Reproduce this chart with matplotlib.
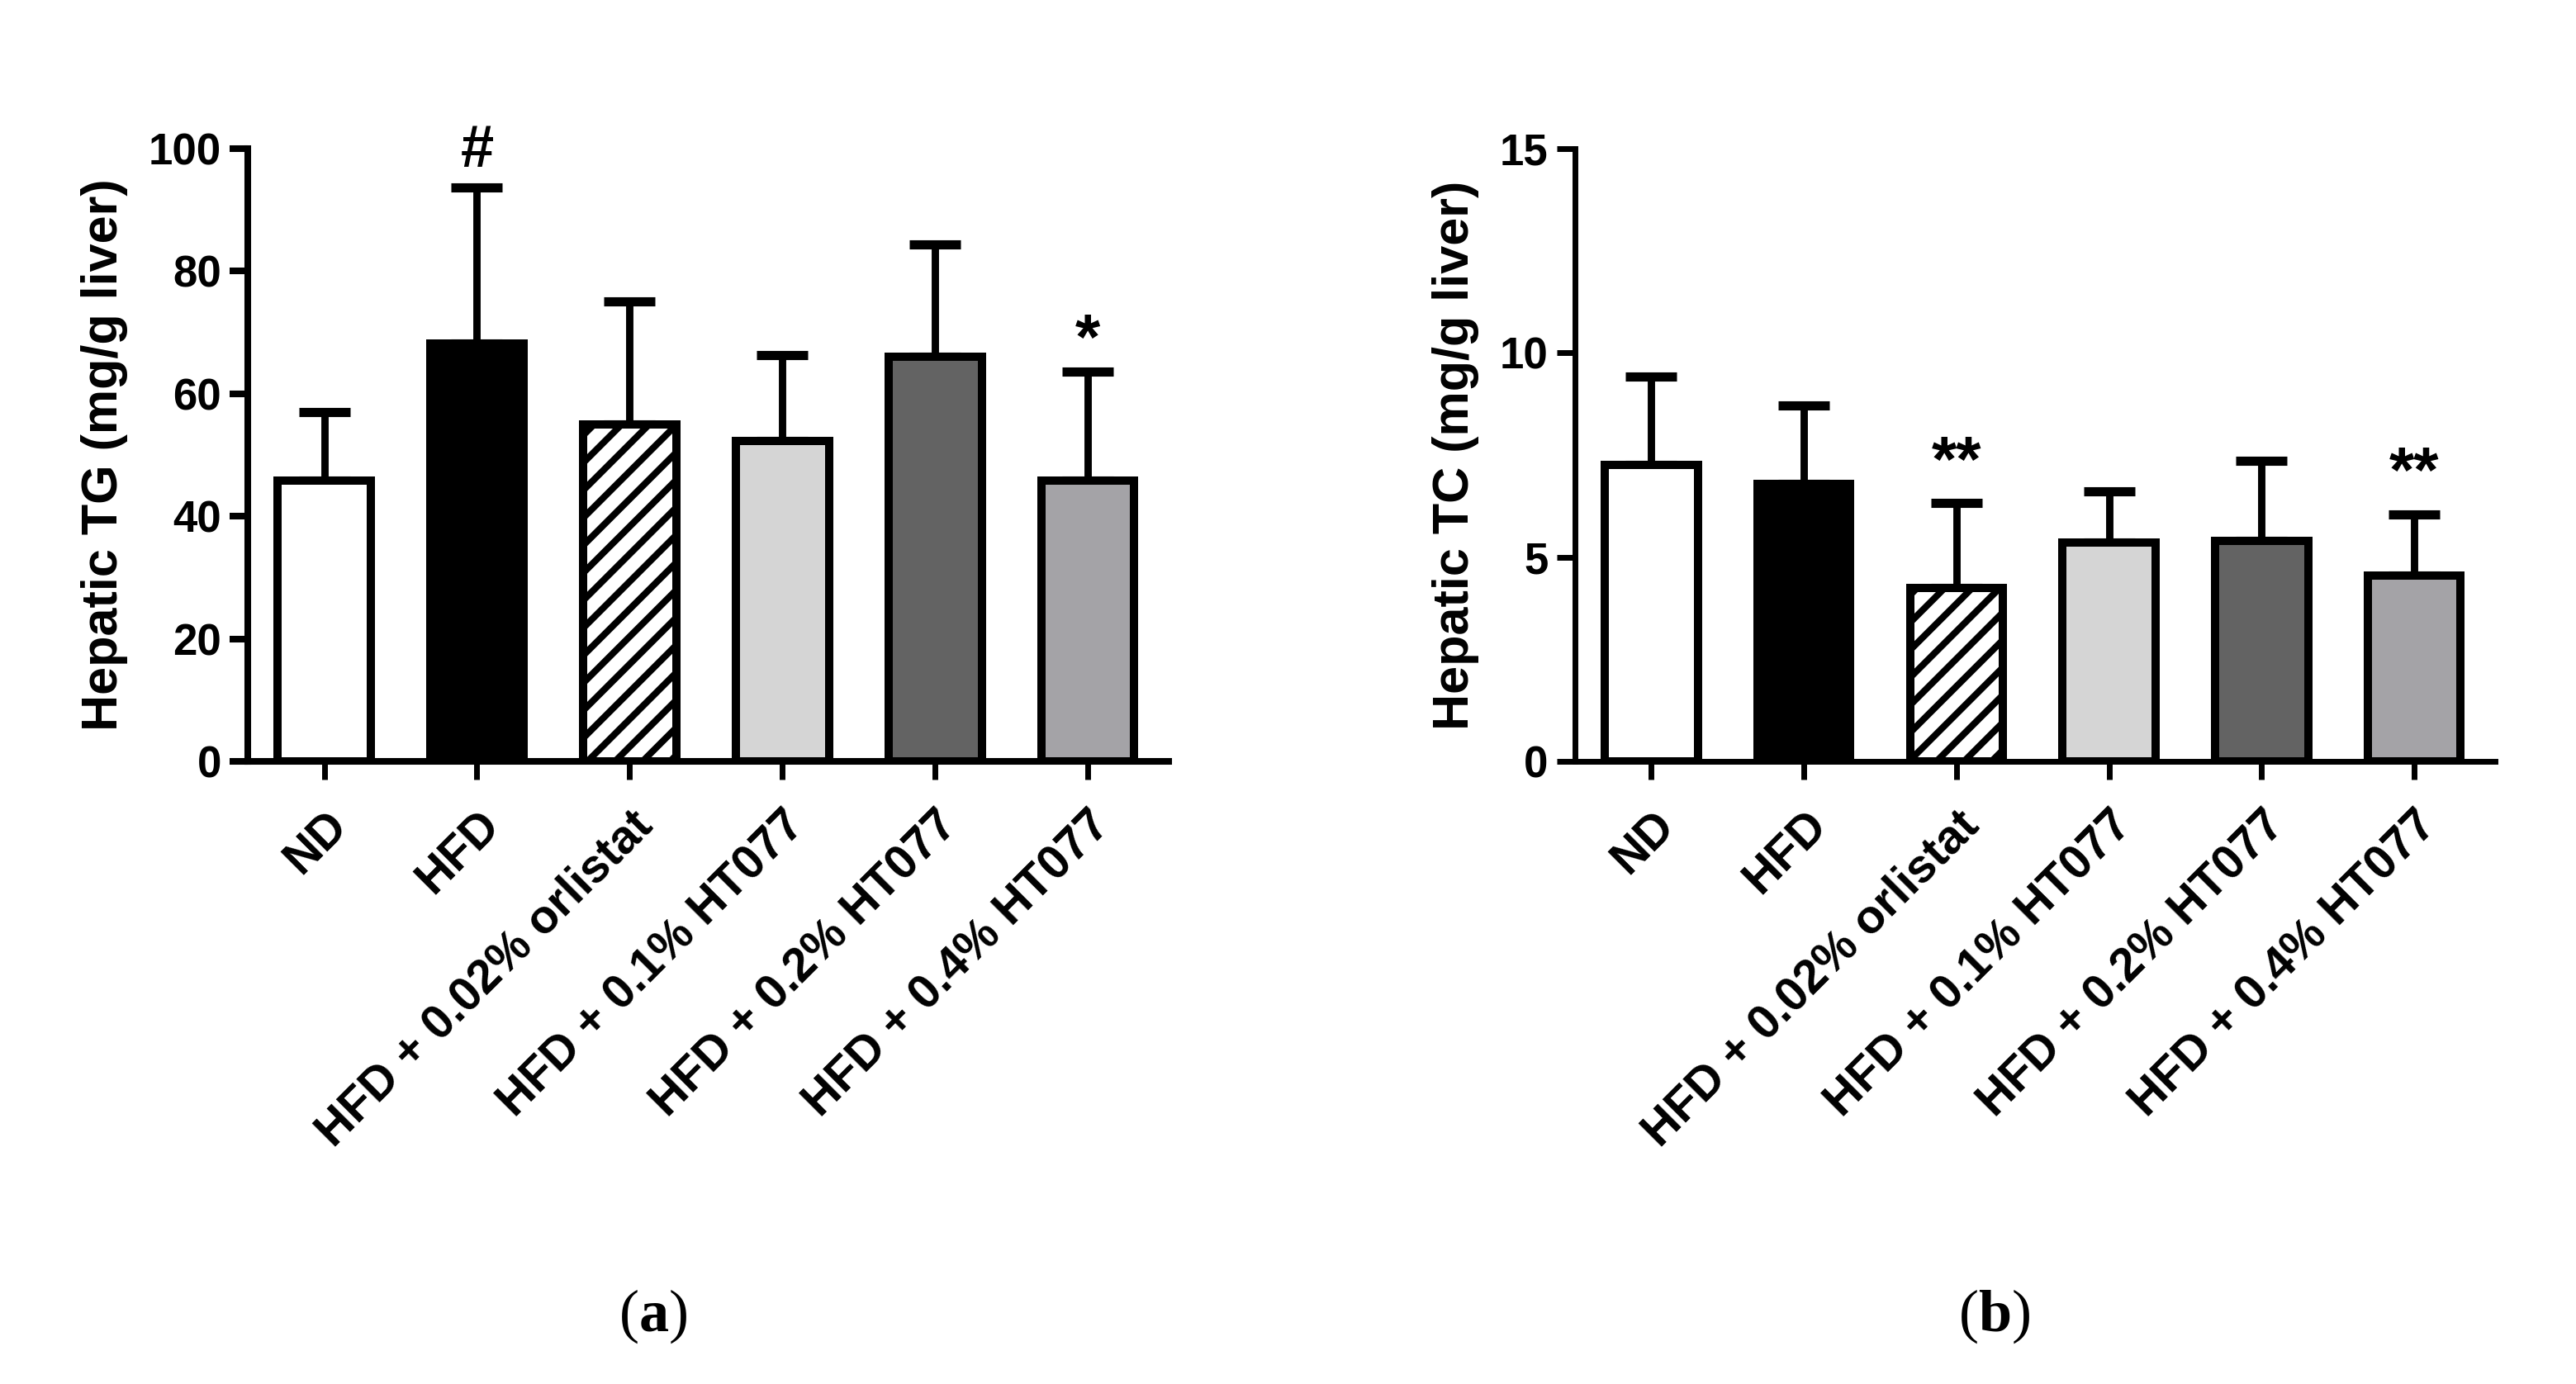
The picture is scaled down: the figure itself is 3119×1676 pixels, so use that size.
import matplotlib
matplotlib.use("Agg")
import matplotlib.pyplot as plt
import numpy as np

plt.rcParams['font.family'] = ['Liberation Sans', 'DejaVu Sans']
plt.rcParams['font.weight'] = 'bold'
plt.rcParams['hatch.linewidth'] = 2.9
plt.rcParams['mathtext.fontset'] = 'custom'
plt.rcParams['mathtext.rm'] = 'Liberation Serif'
plt.rcParams['mathtext.bf'] = 'Liberation Serif:bold'

groups = ["ND", "HFD", "HFD + 0.02% orlistat", "HFD + 0.1% HT077",
          "HFD + 0.2% HT077", "HFD + 0.4% HT077"]
bar_colors = ["white", "black", "white", "#d5d5d5", "#636363", "#a4a3a7"]
bar_hatches = [None, None, "//", None, None, None]

tg_mean = [45.8, 68.2, 55.0, 52.3, 66.0, 45.8]
tg_top = [57.0, 93.6, 75.0, 66.3, 84.3, 63.6]
tg_marks = ["", "#", "", "", "", "*"]

tc_mean = [7.25, 6.8, 4.25, 5.35, 5.4, 4.55]
tc_top = [9.42, 8.72, 6.32, 6.61, 7.35, 6.05]
tc_marks = ["", "", "**", "", "", "**"]


def draw_panel(ax, mean, top, marks, ymax, ystep, ylabel, spine_w, star_off):
    x = np.arange(len(groups))
    mean = np.array(mean)
    up = np.array(top) - mean
    ax.errorbar(x, mean, yerr=[np.zeros_like(up), up], fmt="none",
                ecolor="black", elinewidth=3.2, capsize=11, capthick=4, zorder=1)
    bars = ax.bar(x, mean, width=0.61, color=bar_colors, edgecolor="black",
                  linewidth=3.6, zorder=2)
    for b, h in zip(bars, bar_hatches):
        if h:
            b.set_hatch(h)
    for xi, t, m in zip(x, top, marks):
        if not m:
            continue
        if m == "#":
            ax.annotate(m, (xi, t), xytext=(0, 9), textcoords="offset points",
                        ha="center", va="baseline", fontsize=26, fontweight="bold")
        else:
            ax.annotate(m, (xi, t), xytext=(0, star_off), textcoords="offset points",
                        ha="center", va="baseline", fontsize=28, fontweight="bold")
    ax.set_xlim(-0.5, 5.53)
    ax.set_ylim(0, ymax)
    ax.set_yticks(np.arange(0, ymax + ystep / 2, ystep))
    ax.set_xticks(x)
    ax.set_xticklabels(groups, rotation=45, ha="right", rotation_mode="anchor",
                       fontsize=20.5, fontweight="bold")
    for lab in ax.get_yticklabels():
        lab.set_fontsize(19)
        lab.set_fontweight("bold")
    ax.set_ylabel(ylabel, fontsize=22, fontweight="bold", labelpad=9)
    ax.spines["top"].set_visible(False)
    ax.spines["right"].set_visible(False)
    ax.spines["left"].set_linewidth(spine_w)
    ax.spines["bottom"].set_linewidth(spine_w)
    ax.tick_params(axis="y", length=8, width=spine_w, pad=3.6)
    ax.tick_params(axis="x", length=8, width=2.5, pad=10)


fig = plt.figure(figsize=(15.595, 8.38), dpi=200)
ax1 = fig.add_axes([0.0962, 0.4499, 0.3575, 0.4427])
ax2 = fig.add_axes([0.6114, 0.4499, 0.3572, 0.4427])

draw_panel(ax1, tg_mean, tg_top, tg_marks, 100, 20, "Hepatic TG (mg/g liver)", 2.9, 5.5)
draw_panel(ax2, tc_mean, tc_top, tc_marks, 15, 5, "Hepatic TC (mg/g liver)", 2.5, 9.5)

fig.text(0.2536, 0.049, r"($\mathbf{a}$)", ha="center", va="center",
          fontsize=26, family="Liberation Serif", fontweight="normal")
fig.text(0.774, 0.049, r"($\mathbf{b}$)", ha="center", va="center",
          fontsize=26, family="Liberation Serif", fontweight="normal")

fig.savefig("out.png", dpi=200, facecolor="white")
